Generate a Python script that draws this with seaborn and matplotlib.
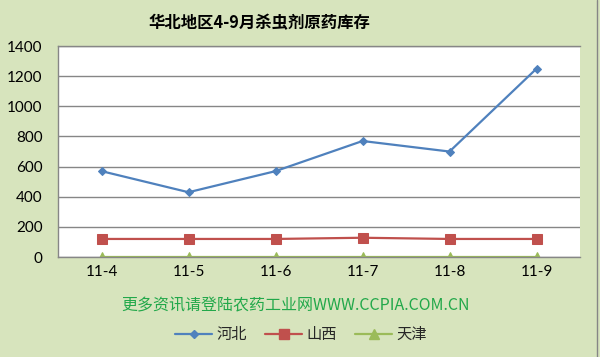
import matplotlib
matplotlib.use("Agg")
import matplotlib.pyplot as plt
import seaborn as sns
import pandas as pd
from matplotlib.lines import Line2D

months = ["11-4", "11-5", "11-6", "11-7", "11-8", "11-9"]
hebei = [570, 430, 570, 770, 700, 1250]
shanxi = [120, 120, 120, 128, 120, 120]
tianjin = [0, 0, 0, 0, 0, 0]
series_names = ["河北", "山西", "天津"]
title = "华北地区4-9月杀虫剂原药库存"
watermark = "更多资讯请登陆农药工业网WWW.CCPIA.COM.CN"

sns.set_style("white")
plt.rcParams['font.family'] = ['Noto Sans CJK SC', 'DejaVu Sans']

rows = []
for name, vals in zip(series_names, [hebei, shanxi, tianjin]):
    for i, (m, v) in enumerate(zip(months, vals)):
        rows.append({"month": m, "idx": i, "value": v, "series": name})
df = pd.DataFrame(rows)

bg = "#D7E4BD"
colors = {"河北": "#4F81BD", "山西": "#C0504D", "天津": "#9BBB59"}
markers = {"河北": "D", "山西": "s", "天津": "^"}
msize = {"河北": 4.5, "山西": 6.5, "天津": 7}

fig = plt.figure(figsize=(6, 3.57), dpi=100, facecolor=bg)
ax = fig.add_axes([0.0967, 0.280, 0.87, 0.591])
ax.set_facecolor("white")

for name in series_names:
    sub = df[df.series == name]
    sns.lineplot(data=sub, x="idx", y="value", ax=ax, color=colors[name],
                 marker=markers[name], markersize=msize[name], linewidth=1.6,
                 markeredgecolor=colors[name], legend=False)

ax.set_xlim(-0.5, len(months) - 0.5)
ax.set_ylim(0, 1400)
ax.set_yticks(range(0, 1401, 200))
ax.set_xticks(range(len(months)))
ax.set_xticklabels(months)
ax.set_xlabel("")
ax.set_ylabel("")
ax.grid(axis="y", color="#868686", linewidth=1)
ax.set_axisbelow(True)
for s in ax.spines.values():
    s.set_color("#868686")
    s.set_linewidth(1)
ax.spines["right"].set_visible(False)
ax.tick_params(axis="both", length=0, colors="black")
ax.tick_params(axis="x", pad=6)
ax.tick_params(axis="y", pad=11)
for lbl in ax.get_yticklabels() + ax.get_xticklabels():
    lbl.set_fontfamily("Lato")
    lbl.set_fontsize(11)
for lbl in ax.get_yticklabels():
    lbl.set_horizontalalignment("right")

fig.text(0.433, 0.936, title, ha="center", va="center", fontsize=11.8,
         fontweight="bold", color="black")
fig.text(0.493, 0.143, watermark, ha="center", va="center", fontsize=11.5,
         color="#22A84A")

handles = [Line2D([0], [0], color=colors[n], marker=markers[n], markersize=msize[n],
                  linewidth=1.6) for n in series_names]
fig.legend(handles, series_names, loc="center", bbox_to_anchor=(0.502, 0.063),
           ncol=3, frameon=False, fontsize=11, handlelength=2.4,
           columnspacing=1.2, handletextpad=0.3)

fig.add_artist(Line2D([0.995, 0.995], [0, 1], transform=fig.transFigure,
                      color="#868686", linewidth=1))

fig.savefig("out.png", dpi=100, facecolor=bg)
